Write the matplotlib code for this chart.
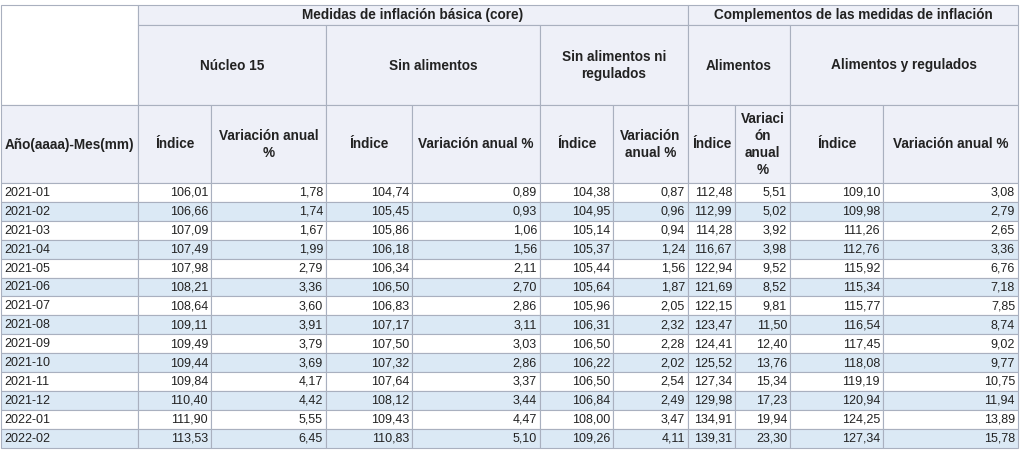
import matplotlib.pyplot as plt
from matplotlib.patches import Rectangle

# datos de la tabla
meses = ['2021-01', '2021-02', '2021-03', '2021-04', '2021-05', '2021-06', '2021-07',
         '2021-08', '2021-09', '2021-10', '2021-11', '2021-12', '2022-01', '2022-02']
nucleo15_ind = ['106,01', '106,66', '107,09', '107,49', '107,98', '108,21', '108,64',
                '109,11', '109,49', '109,44', '109,84', '110,40', '111,90', '113,53']
nucleo15_var = ['1,78', '1,74', '1,67', '1,99', '2,79', '3,36', '3,60',
                '3,91', '3,79', '3,69', '4,17', '4,42', '5,55', '6,45']
sin_alim_ind = ['104,74', '105,45', '105,86', '106,18', '106,34', '106,50', '106,83',
                '107,17', '107,50', '107,32', '107,64', '108,12', '109,43', '110,83']
sin_alim_var = ['0,89', '0,93', '1,06', '1,56', '2,11', '2,70', '2,86',
                '3,11', '3,03', '2,86', '3,37', '3,44', '4,47', '5,10']
sin_alim_reg_ind = ['104,38', '104,95', '105,14', '105,37', '105,44', '105,64', '105,96',
                    '106,31', '106,50', '106,22', '106,50', '106,84', '108,00', '109,26']
sin_alim_reg_var = ['0,87', '0,96', '0,94', '1,24', '1,56', '1,87', '2,05',
                    '2,32', '2,28', '2,02', '2,54', '2,49', '3,47', '4,11']
alim_ind = ['112,48', '112,99', '114,28', '116,67', '122,94', '121,69', '122,15',
            '123,47', '124,41', '125,52', '127,34', '129,98', '134,91', '139,31']
alim_var = ['5,51', '5,02', '3,92', '3,98', '9,52', '8,52', '9,81',
            '11,50', '12,40', '13,76', '15,34', '17,23', '19,94', '23,30']
alim_reg_ind = ['109,10', '109,98', '111,26', '112,76', '115,92', '115,34', '115,77',
                '116,54', '117,45', '118,08', '119,19', '120,94', '124,25', '127,34']
alim_reg_var = ['3,08', '2,79', '2,65', '3,36', '6,76', '7,18', '7,85',
                '8,74', '9,02', '9,77', '10,75', '11,94', '13,89', '15,78']

columnas = [meses, nucleo15_ind, nucleo15_var, sin_alim_ind, sin_alim_var,
            sin_alim_reg_ind, sin_alim_reg_var, alim_ind, alim_var, alim_reg_ind, alim_reg_var]
encabezados = ['Año(aaaa)-Mes(mm)', 'Índice', 'Variación anual\n%', 'Índice', 'Variación anual %',
               'Índice', 'Variación\nanual %', 'Índice', 'Variaci\nón\nanual\n%', 'Índice',
               'Variación anual %']
grupos2 = [('Núcleo 15', 1, 3), ('Sin alimentos', 3, 5), ('Sin alimentos ni\nregulados', 5, 7),
           ('Alimentos', 7, 9), ('Alimentos y regulados', 9, 11)]
grupos1 = [('Medidas de inflación básica (core)', 1, 7), ('Complementos de las medidas de inflación', 7, 11)]

# bordes de columnas en pixeles
xs = [1, 138, 211, 326, 412, 540, 613, 688, 735, 790, 883, 1018]
y_g1, y_g2, y_h, y_d = 5, 25, 105, 183
alto_fila = 18.9

fondo_enc = '#eef0f8'
azul = '#dbe9f5'
borde = '#a9b0bf'
fuente = 'Liberation Sans'

fig = plt.figure(figsize=(10.24, 4.57), dpi=100)
ax = fig.add_axes([0, 0, 1, 1])
ax.set_xlim(0, 1024)
ax.set_ylim(457, 0)
ax.axis('off')


def celda(x0, x1, y0, y1, texto, color, bold=True, ha='center', size=9.8):
    ax.add_patch(Rectangle((x0, y0), x1 - x0, y1 - y0, facecolor=color, edgecolor=borde, linewidth=0.8))
    if ha == 'center':
        tx = (x0 + x1) / 2
    elif ha == 'right':
        tx = x1 - 3
    else:
        tx = x0 + 3
    ax.text(tx, (y0 + y1) / 2 + 0.5, texto, ha=ha, va='center', fontsize=size,
            fontweight='bold' if bold else 'normal', family=fuente, linespacing=1.25, color='#222222')


# esquina vacia
ax.add_patch(Rectangle((xs[0], y_g1), xs[1] - xs[0], y_h - y_g1, facecolor='white', edgecolor=borde, linewidth=0.8))
for nombre, a, b in grupos1:
    celda(xs[a], xs[b], y_g1, y_g2, nombre, fondo_enc)
for nombre, a, b in grupos2:
    celda(xs[a], xs[b], y_g2, y_h, nombre, fondo_enc)
for i, nombre in enumerate(encabezados):
    celda(xs[i], xs[i + 1], y_h, y_d, nombre, fondo_enc)

for r in range(len(meses)):
    y0 = y_d + r * alto_fila
    color = 'white' if r % 2 == 0 else azul
    for i, col in enumerate(columnas):
        celda(xs[i], xs[i + 1], y0, y0 + alto_fila, col[r], color, bold=False,
              ha='left' if i == 0 else 'right', size=9.0)

fig.savefig('out.png', dpi=100, facecolor='white')
